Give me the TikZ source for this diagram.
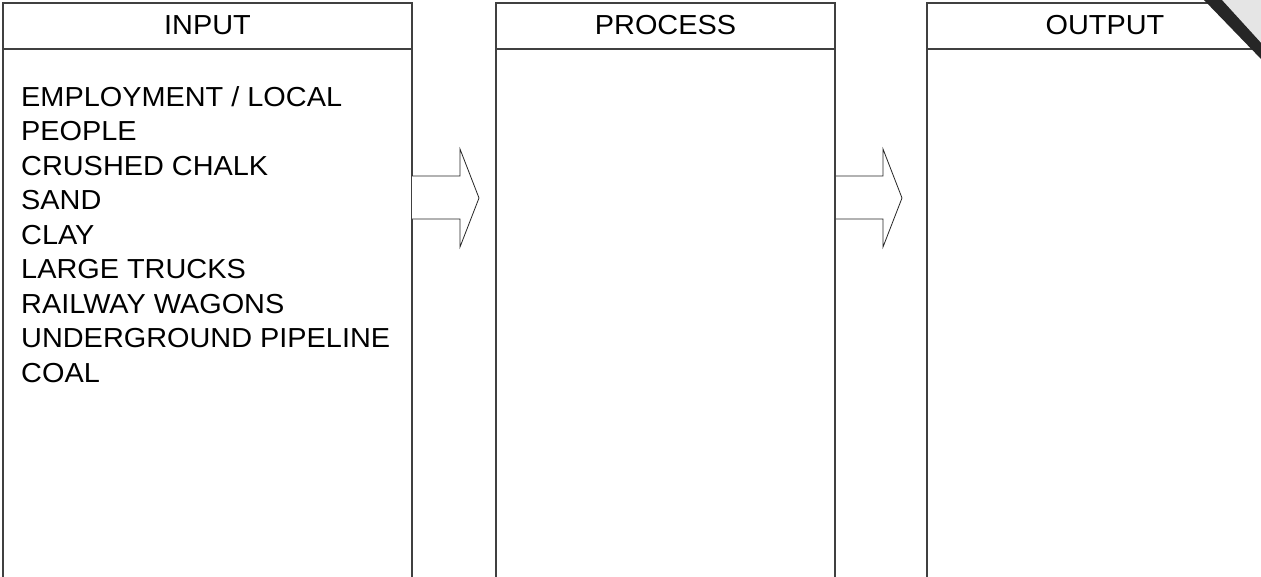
\documentclass[tikz,border=0pt]{standalone}
\usepackage{fontspec}
\setmainfont{Liberation Sans}
\newfontfamily\bodyfont{Liberation Sans}[FakeStretch=1.05]
\begin{document}
\begin{tikzpicture}[x=1pt,y=-1pt,
  boxline/.style={draw=black!75,line width=1.3pt},
  arrowshape/.style={draw=black!85,line width=0.8pt,fill=white,line join=miter},
  headtext/.style={font=\bodyfont\fontsize{27.5}{34}\selectfont,text=black,anchor=base,inner sep=0pt},
  bodytext/.style={font=\bodyfont\fontsize{27.5}{34.5}\selectfont,text=black,anchor=base west,inner sep=0pt}]
\useasboundingbox (0,0) rectangle (1261,576);
\fill[white] (0,0) rectangle (1261,576);
% INPUT box
\draw[boxline] (3,580) -- (3,3) -- (412,3) -- (412,580);
\draw[boxline] (3,49) -- (412,49);
\node[headtext] (inhead) at (207.5,34.5) {INPUT};
% PROCESS box
\draw[boxline] (496,580) -- (496,3) -- (835,3) -- (835,580);
\draw[boxline] (496,49) -- (835,49);
\node[headtext] (prochead) at (665.5,34.5) {PROCESS};
% OUTPUT box
\draw[boxline] (927,580) -- (927,3) -- (1300,3);
\draw[boxline] (927,49) -- (1300,49);
\node[headtext] (outhead) at (1105,34.5) {OUTPUT};
% body text
\foreach \t [count=\i from 0] in {EMPLOYMENT / LOCAL,PEOPLE,CRUSHED CHALK,SAND,CLAY,LARGE TRUCKS,RAILWAY WAGONS,UNDERGROUND PIPELINE,COAL}
  \node[bodytext] (item\i) at (21,106+34.5*\i) {\t};
% arrows
\draw[arrowshape] (412,176) -- (460,176) -- (460,149) -- (479,198) -- (460,247) -- (460,219) -- (412,219);
\draw[arrowshape] (836,176) -- (883,176) -- (883,149) -- (902,198) -- (883,247) -- (883,219) -- (836,219);
% page curl in corner
\fill[black!10] (1214,-1) -- (1262,-1) -- (1262,50) -- cycle;
\fill[black!85] (1203,-1) -- (1221,-1) -- (1262,44) -- (1262,60) -- cycle;
\end{tikzpicture}
\end{document}
